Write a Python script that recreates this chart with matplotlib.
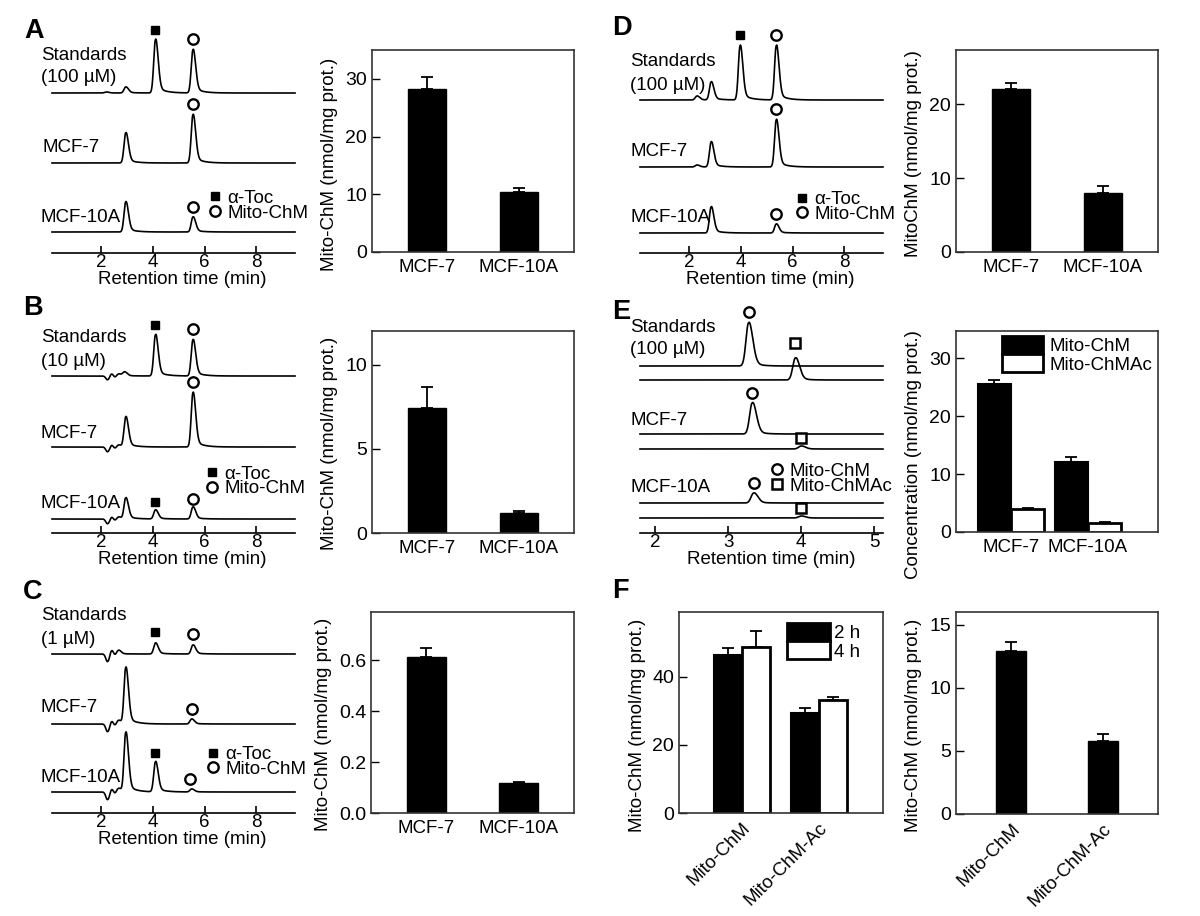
import numpy as np
import matplotlib
matplotlib.use("Agg")
import matplotlib.pyplot as plt
from matplotlib.lines import Line2D
from matplotlib.patches import Patch

# ---------------- data ----------------
# Chromatogram peaks: (retention time [min], peak height [a.u.])
A_std_peaks = [(2.2, 1), (2.95, 6), (4.1, 53), (5.55, 43)]
A_mcf7_peaks = [(2.95, 30), (5.55, 48)]
A_mcf10a_peaks = [(2.95, 30), (5.55, 15)]

B_std_peaks = [(2.25, -4), (2.4, 4), (2.52, -3), (2.65, 3), (2.9, 4), (4.1, 41), (5.55, 36)]
B_mcf7_peaks = [(2.25, -5), (2.4, 4), (2.52, -3), (2.65, 3), (2.95, 30), (5.55, 54)]
B_mcf10a_peaks = [(2.25, -5), (2.4, 4), (2.52, -3), (2.65, 3), (2.95, 21), (4.1, 9), (5.55, 12)]

C_std_peaks = [(2.25, -8), (2.4, 7), (2.52, -4), (2.65, 5), (4.1, 11), (5.55, 9)]
C_mcf7_peaks = [(2.25, -8), (2.4, 6), (2.52, -4), (2.65, 5), (2.95, 56), (5.5, 5)]
C_mcf10a_peaks = [(2.25, -8), (2.4, 6), (2.52, -4), (2.65, 5), (2.95, 59), (4.1, 30), (5.5, 3)]

D_std_peaks = [(2.3, 4), (2.85, 18), (3.97, 54), (5.37, 54)]
D_mcf7_peaks = [(2.3, 2), (2.85, 25), (5.37, 47)]
D_mcf10a_peaks = [(2.85, 26), (5.37, 9)]

E_std_chm = [(3.28, 43)]
E_std_ac = [(3.92, 22)]
E_mcf7_chm = [(3.33, 31)]
E_mcf7_ac = [(4.0, 3)]
E_mcf10a_chm = [(3.35, 10)]
E_mcf10a_ac = [(4.0, 2)]

chrom_ticks_AD = [2, 4, 6, 8]
chrom_ticks_E = [2, 3, 4, 5]

# Bar charts
cells = ['MCF-7', 'MCF-10A']
A_vals, A_err = [28.3, 10.4], [2.0, 0.7]
B_vals, B_err = [7.4, 1.18], [1.25, 0.1]
C_vals, C_err = [0.612, 0.118], [0.035, 0.005]
D_vals, D_err = [22.0, 8.0], [0.9, 0.9]
E_chm, E_chm_err = [25.5, 12.0], [0.8, 1.0]
E_ac, E_ac_err = [4.0, 1.6], [0.1, 0.15]
compounds = ['Mito-ChM', 'Mito-ChM-Ac']
F_2h, F_2h_err = [46.5, 29.4], [1.8, 1.5]
F_4h, F_4h_err = [48.8, 33.2], [4.7, 0.9]
F2_vals, F2_err = [12.9, 5.8], [0.7, 0.55]

# ---------------- style / layout ----------------
plt.rcParams['font.family'] = ['Liberation Sans', 'DejaVu Sans']
FS = 13.5
W, H = 1200, 916
fig = plt.figure(figsize=(12, 9.16), dpi=100, facecolor='white')


def box(l, r, t, b):
    return [l / W, 1 - b / H, (r - l) / W, (b - t) / H]


def ftext(px, py, s, **kw):
    kw.setdefault('fontsize', FS)
    kw.setdefault('ha', 'left')
    kw.setdefault('va', 'center')
    fig.text(px / W, 1 - py / H, s, **kw)


MARK = {
    'toc': dict(marker='s', ms=6, mfc='k', mec='k'),
    'chm': dict(marker='o', ms=7.5, mfc='w', mec='k', mew=1.7),
    'ac': dict(marker='s', ms=6.5, mfc='w', mec='k', mew=1.8),
}


def peak(t, tr, h, sl, sr, tail, tau):
    d = t - tr
    dp = np.clip(d, 0, None)
    g = np.where(d < 0, np.exp(-0.5 * (d / sl) ** 2), np.exp(-0.5 * (d / sr) ** 2))
    tl = np.where(d > 0, tail * (1 - np.exp(-dp / sl)) * np.exp(-dp / tau), 0.0)
    return h * (g + tl)


def chromatogram(l, r, axis_y, top_y, xlim, ticks, traces, widths, xlabel_cx):
    ax = fig.add_axes(box(l, r, top_y, axis_y))
    ax.set_xlim(xlim)
    ax.set_ylim(0, axis_y - top_y)
    ax.patch.set_alpha(0)
    for s in ['top', 'right', 'left']:
        ax.spines[s].set_visible(False)
    ax.spines['bottom'].set_linewidth(1.2)
    ax.set_yticks([])
    ax.set_xticks(ticks)
    ax.tick_params(axis='x', direction='in', length=5, width=1.2, pad=0.5, labelsize=FS)
    t = np.linspace(xlim[0], xlim[1], 2000)
    for base, peaks, marks in traces:
        y = base + np.sum([peak(t, tr, h, *widths) for tr, h in peaks], axis=0)
        ax.plot(t, y, color='k', lw=1.2, clip_on=False)
        for tm, key, gap in marks:
            sel = np.abs(t - tm) < 0.08
            ytop = y[sel].max()
            ax.plot([tm], [ytop + gap], ls='none', clip_on=False, **MARK[key])
    ax.set_xlabel('Retention time (min)', fontsize=FS)
    ax.xaxis.set_label_coords((xlabel_cx - l) / (r - l), -26 / (axis_y - top_y))
    ax.xaxis.label.set_va('center')
    return ax


def chrom_legend(ax, x_px, y1, y2, keys, labels):
    handles = [Line2D([], [], ls='none', **MARK[k]) for k in keys]
    ax.legend(handles, labels, loc='center left',
              bbox_to_anchor=((x_px - 7.5) / W, 1 - (y1 + y2) / 2 / H),
              bbox_transform=fig.transFigure, frameon=False, borderpad=0,
              borderaxespad=0, handlelength=0.8, handletextpad=0.25,
              labelspacing=-0.12, fontsize=FS)


def bar_axes(l, r, t, b, xlim, ylim, yticks, ylabel, ylab_x, ylab_frac):
    ax = fig.add_axes(box(l, r, t, b))
    ax.set_xlim(xlim)
    ax.set_ylim(ylim)
    ax.set_yticks(yticks)
    ax.tick_params(axis='y', direction='in', length=5.5, width=1, labelsize=14, pad=3.5)
    ax.tick_params(axis='x', length=0, labelsize=FS, pad=5)
    for s in ax.spines.values():
        s.set_linewidth(1.2)
        s.set_color('#333333')
    ax.set_ylabel(ylabel, fontsize=FS)
    ax.yaxis.set_label_coords((ylab_x - l) / (r - l), ylab_frac)
    ax.yaxis.label.set_va('center')
    return ax


def simple_bars(ax, labels, vals, err, width):
    x = np.arange(len(vals))
    ax.errorbar(x, vals, yerr=[np.zeros(len(err)), err], fmt='none', ecolor='k',
                elinewidth=1.3, capsize=4, capthick=1.3, zorder=1)
    ax.bar(x, vals, width, color='k', edgecolor='k', lw=1, zorder=2)
    ax.set_xticks(x)
    ax.set_xticklabels(labels)


def grouped_bars(ax, labels, v1, e1, v2, e2, width):
    x = np.arange(len(v1))
    ax.errorbar(x - width / 2, v1, yerr=[np.zeros(len(e1)), e1], fmt='none', ecolor='k',
                elinewidth=1.3, capsize=4, capthick=1.3, zorder=1)
    ax.errorbar(x + width / 2, v2, yerr=[np.zeros(len(e2)), e2], fmt='none', ecolor='k',
                elinewidth=1.3, capsize=4, capthick=1.3, zorder=1)
    ax.bar(x - width / 2, v1, width, color='k', edgecolor='k', lw=1.5, zorder=2)
    ax.bar(x + width / 2, v2, width, color='white', edgecolor='k', lw=2, zorder=2)
    ax.set_xticks(x)
    ax.set_xticklabels(labels)


WAD = (0.065, 0.10, 0.14, 0.3)
WE = (0.035, 0.055, 0.14, 0.1)

# ---------------- Panel A ----------------
axA = chromatogram(52, 295, 253, 25, (0.1, 9.5), chrom_ticks_AD, [
    (160, A_std_peaks, [(4.1, 'toc', 9), (5.55, 'chm', 10)]),
    (90, A_mcf7_peaks, [(5.55, 'chm', 10)]),
    (21, A_mcf10a_peaks, [(5.55, 'chm', 10)]),
], WAD, 182)
chrom_legend(axA, 215, 196, 215, ['toc', 'chm'], ['α-Toc', 'Mito-ChM'])
ftext(41, 55, 'Standards'); ftext(41, 78, '(100 µM)')
ftext(42, 147, 'MCF-7'); ftext(40, 217, 'MCF-10A')
ftext(24, 31, 'A', fontsize=19.5, fontweight='bold')

ax = bar_axes(372, 574, 50, 252, (-0.6, 1.6), (0, 35), [0, 10, 20, 30],
              'Mito-ChM (nmol/mg prot.)', 330, 0.435)
simple_bars(ax, cells, A_vals, A_err, 0.42)

# ---------------- Panel B ----------------
axB = chromatogram(52, 295, 533, 305, (0.1, 9.5), chrom_ticks_AD, [
    (157, B_std_peaks, [(4.1, 'toc', 9), (5.55, 'chm', 10)]),
    (86, B_mcf7_peaks, [(5.55, 'chm', 10)]),
    (14, B_mcf10a_peaks, [(4.1, 'toc', 8), (5.55, 'chm', 8)]),
], WAD, 182)
chrom_legend(axB, 212, 473, 490, ['toc', 'chm'], ['α-Toc', 'Mito-ChM'])
ftext(41, 338, 'Standards'); ftext(41, 362, '(10 µM)')
ftext(41, 434, 'MCF-7'); ftext(40, 503, 'MCF-10A')
ftext(23, 308, 'B', fontsize=19.5, fontweight='bold')

ax = bar_axes(372, 574, 331, 533, (-0.6, 1.6), (0, 12), [0, 5, 10],
              'Mito-ChM (nmol/mg prot.)', 329, 0.445)
simple_bars(ax, cells, B_vals, B_err, 0.42)

# ---------------- Panel C ----------------
axC = chromatogram(52, 295, 813, 590, (0.1, 9.5), chrom_ticks_AD, [
    (159, C_std_peaks, [(4.1, 'toc', 11), (5.55, 'chm', 11)]),
    (89, C_mcf7_peaks, [(5.5, 'chm', 10)]),
    (21, C_mcf10a_peaks, [(4.1, 'toc', 8), (5.45, 'chm', 10)]),
], WAD, 182)
chrom_legend(axC, 213, 752, 772, ['toc', 'chm'], ['α-Toc', 'Mito-ChM'])
ftext(41, 615, 'Standards'); ftext(41, 640, '(1 µM)')
ftext(40, 708, 'MCF-7'); ftext(41, 777, 'MCF-10A')
ftext(23, 592, 'C', fontsize=19.5, fontweight='bold')

ax = bar_axes(371, 574, 612, 813, (-0.6, 1.6), (0, 0.79), [0.0, 0.2, 0.4, 0.6],
              'Mito-ChM (nmol/mg prot.)', 324, 0.443)
ax.set_yticklabels(['0.0', '0.2', '0.4', '0.6'])
simple_bars(ax, cells, C_vals, C_err, 0.42)

# ---------------- Panel D ----------------
axD = chromatogram(640, 883, 253, 25, (0.1, 9.5), chrom_ticks_AD, [
    (153, D_std_peaks, [(3.97, 'toc', 10), (5.37, 'chm', 10)]),
    (86, D_mcf7_peaks, [(5.37, 'chm', 10)]),
    (20, D_mcf10a_peaks, [(5.37, 'chm', 10)]),
], WAD, 770)
chrom_legend(axD, 802, 198, 216, ['toc', 'chm'], ['α-Toc', 'Mito-ChM'])
ftext(630, 62, 'Standards'); ftext(630, 85, '(100 µM)')
ftext(630, 152, 'MCF-7'); ftext(630, 218, 'MCF-10A')
ftext(612, 28, 'D', fontsize=19.5, fontweight='bold')

ax = bar_axes(956, 1158, 50, 252, (-0.6, 1.6), (0, 27.3), [0, 10, 20],
              'MitoChM (nmol/mg prot.)', 913, 0.485)
simple_bars(ax, cells, D_vals, D_err, 0.42)

# ---------------- Panel E ----------------
axE = chromatogram(640, 883, 533, 305, (1.795, 5.12), chrom_ticks_E, [
    (167, E_std_chm, [(3.28, 'chm', 10)]),
    (153, E_std_ac, [(3.92, 'ac', 15)]),
    (99, E_mcf7_chm, [(3.33, 'chm', 10)]),
    (84, E_mcf7_ac, [(4.0, 'ac', 8)]),
    (30, E_mcf10a_chm, [(3.35, 'chm', 10)]),
    (15, E_mcf10a_ac, [(4.0, 'ac', 8)]),
], WE, 771)
chrom_legend(axE, 777, 468, 489, ['chm', 'ac'], ['Mito-ChM', 'Mito-ChMAc'])
ftext(630, 327, 'Standards'); ftext(630, 350, '(100 µM)')
ftext(630, 420, 'MCF-7'); ftext(630, 488, 'MCF-10A')
ftext(612, 312, 'E', fontsize=19.5, fontweight='bold')

ax = bar_axes(956, 1158, 331, 532, (-0.714, 1.909), (0, 34.7), [0, 10, 20, 30],
              'Concentration (nmol/mg prot.)', 913, 0.383)
grouped_bars(ax, cells, E_chm, E_chm_err, E_ac, E_ac_err, 0.43)
ax.legend([Patch(fc='k', ec='k', lw=2), Patch(fc='w', ec='k', lw=2)],
          ['Mito-ChM', 'Mito-ChMAc'], loc='upper left',
          bbox_to_anchor=(1002 / W, 1 - 336 / H), bbox_transform=fig.transFigure,
          frameon=False, borderpad=0, borderaxespad=0, handlelength=2.2,
          handleheight=1.1, handletextpad=0.35, labelspacing=-0.05, fontsize=FS)

# ---------------- Panel F ----------------
ftext(612, 591, 'F', fontsize=19.5, fontweight='bold')
ax = bar_axes(679, 883, 612, 813, (-0.818, 1.831), (0, 59), [0, 20, 40],
              'Mito-ChM (nmol/mg prot.)', 638, 0.438)
grouped_bars(ax, compounds, F_2h, F_2h_err, F_4h, F_4h_err, 0.36)
ax.set_xticklabels(compounds, rotation=45, ha='right', rotation_mode='anchor')
ax.legend([Patch(fc='k', ec='k', lw=2), Patch(fc='w', ec='k', lw=2)],
          ['2 h', '4 h'], loc='upper left',
          bbox_to_anchor=(787 / W, 1 - 623 / H), bbox_transform=fig.transFigure,
          frameon=False, borderpad=0, borderaxespad=0, handlelength=2.3,
          handleheight=1.1, handletextpad=0.2, labelspacing=-0.05, fontsize=FS)

ax = bar_axes(956, 1158, 612, 814, (-0.6, 1.6), (0, 16), [0, 5, 10, 15],
              'Mito-ChM (nmol/mg prot.)', 913, 0.44)
simple_bars(ax, compounds, F2_vals, F2_err, 0.33)
ax.set_xticklabels(compounds, rotation=45, ha='right', rotation_mode='anchor')

fig.savefig('out.png', dpi=100, facecolor='white')
